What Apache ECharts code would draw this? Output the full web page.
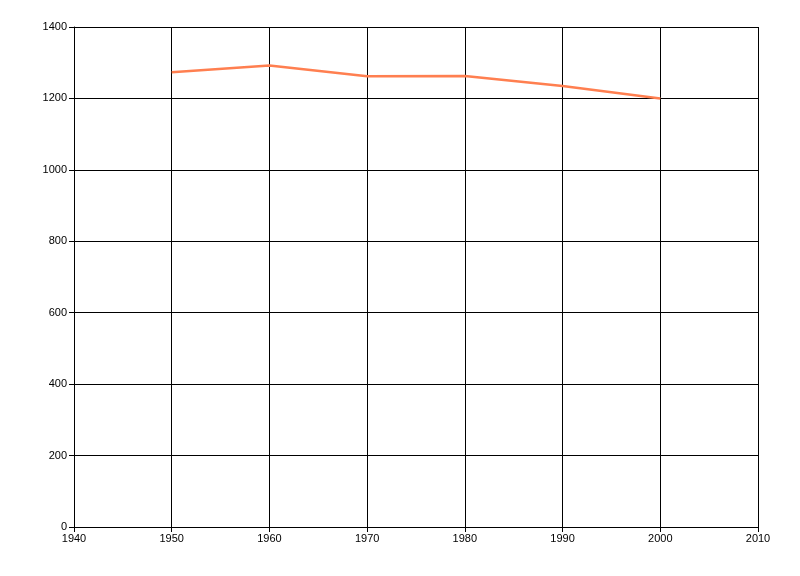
<!DOCTYPE html>
<html><head><meta charset="utf-8">
<script src="https://cdn.jsdelivr.net/npm/echarts@6/dist/echarts.min.js"></script>
<style>html,body{margin:0;padding:0;background:#fff}#c{width:800px;height:576px}</style>
</head><body><div id="c"></div>
<script>
const years = [1950, 1960, 1970, 1980, 1990, 2000];
const values = [1273, 1292, 1262, 1263, 1235, 1200];
const xMin = 1940, xMax = 2010, xStep = 10;
const yMin = 0, yMax = 1400, yStep = 200;

const chart = echarts.init(document.getElementById('c'), null, {renderer: 'canvas'});
const labelBase = {color: '#000', fontFamily: 'Liberation Sans, Arial, sans-serif', fontSize: 11, formatter: v => String(v)};
const axisCommon = {
  axisLine: {show: true, onZero: false, lineStyle: {color: '#000', width: 1}},
  axisTick: {show: true, length: 5, lineStyle: {color: '#000'}},
  splitLine: {show: true, lineStyle: {color: '#000', width: 1}}
};
chart.setOption({
  animation: false,
  backgroundColor: '#fff',
  grid: {left: 74, right: 42, top: 27, bottom: 49, containLabel: false},
  xAxis: Object.assign({type: 'value', min: xMin, max: xMax, interval: xStep}, axisCommon,
    {axisLabel: Object.assign({}, labelBase, {margin: 6})}),
  yAxis: Object.assign({type: 'value', min: yMin, max: yMax, interval: yStep}, axisCommon,
    {axisLabel: Object.assign({}, labelBase, {margin: 7})}),
  series: [{
    type: 'line',
    data: years.map((y, i) => [y, values[i]]),
    showSymbol: false,
    lineStyle: {color: '#FF7F50', width: 2.5},
    itemStyle: {color: '#FF7F50'}
  }]
});
</script></body></html>
